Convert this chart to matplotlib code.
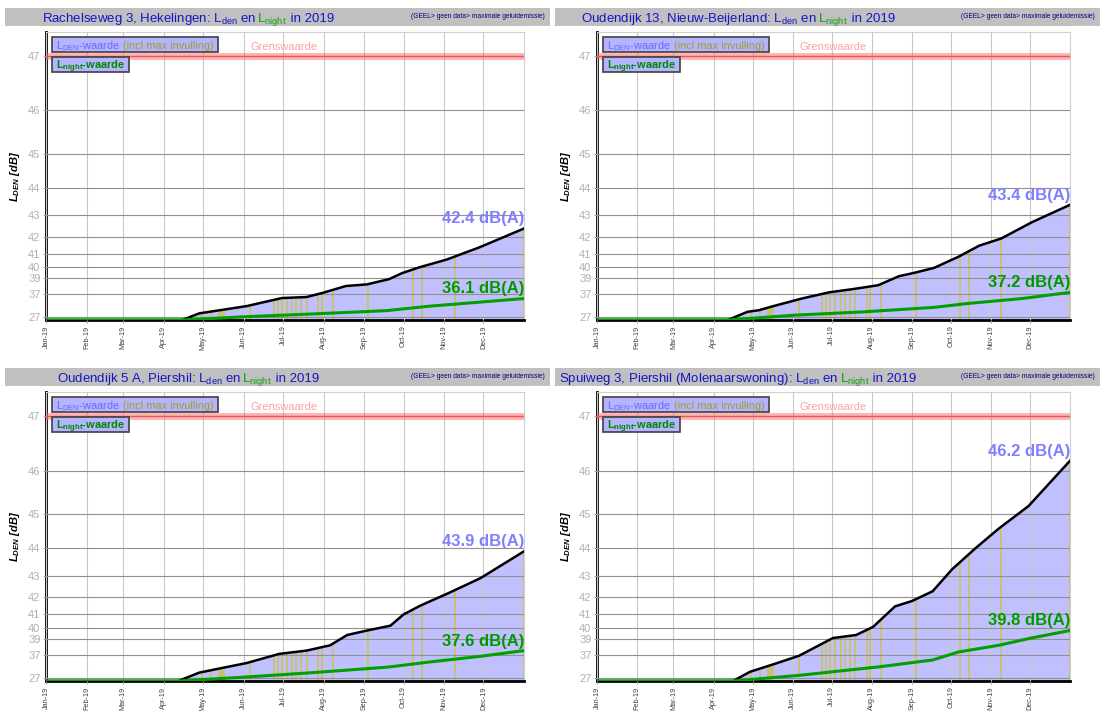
import numpy as np
import matplotlib.pyplot as plt
from matplotlib.patches import Rectangle

plt.rcParams['font.family'] = ['Liberation Sans', 'DejaVu Sans']
plt.rcParams['mathtext.default'] = 'regular'

W, H = 1101, 711

# x-as: dag van het jaar 2019
month_days = [0, 31, 59, 90, 120, 151, 181, 212, 243, 273, 304, 334]
month_labels = ['Jan-19', 'Feb-19', 'Mar-19', 'Apr-19', 'May-19', 'Jun-19',
                'Jul-19', 'Aug-19', 'Sep-19', 'Oct-19', 'Nov-19', 'Dec-19']
ytick_vals = [27, 37, 39, 40, 41, 42, 43, 44, 45, 46, 47]
grenswaarde = 47

# dagen zonder data (geel, maximale invulling)
gap_days = [119, 126, 132, 133, 134, 135, 136, 156, 174, 177, 180, 184, 188,
            191, 195, 199, 208, 211, 219, 246, 280, 287, 312, 365]

locations = ['Rachelseweg 3, Hekelingen', 'Oudendijk 13, Nieuw-Beijerland',
             'Oudendijk 5 A, Piershil', 'Spuiweg 3, Piershil (Molenaarswoning)']

# cumulatieve Lden / Lnight (dB), 0 = nog geen bijdrage
lden_days_1 = [0, 104, 117, 153, 180, 199, 211, 229, 245, 262, 272, 285, 306, 331, 365]
lden_1 = [0, 0, 31.0, 34.2, 36.2, 36.4, 37.1, 38.1, 38.3, 38.9, 39.5, 40.0, 40.6, 41.4, 42.4]
lnight_days_1 = [0, 104, 153, 203, 260, 293, 331, 365]
lnight_1 = [0, 0, 28.0, 30.6, 32.5, 34.2, 35.3, 36.1]

lden_days_2 = [0, 101, 116, 125, 136, 158, 179, 198, 217, 233, 244, 260, 279, 295, 312, 336, 365]
lden_2 = [0, 0, 31.9, 32.7, 34.2, 36.1, 37.2, 37.7, 38.2, 39.2, 39.5, 39.95, 40.8, 41.5, 41.9, 42.7, 43.4]
lnight_days_2 = [0, 101, 152, 206, 260, 287, 328, 365]
lnight_2 = [0, 0, 29.6, 31.9, 33.8, 35.0, 36.1, 37.2]

lden_days_3 = [0, 101, 117, 132, 153, 178, 199, 217, 230, 245, 263, 273, 286, 307, 332, 365]
lden_3 = [0, 0, 32.0, 33.7, 35.3, 37.1, 37.6, 38.3, 39.4, 39.8, 40.2, 41.0, 41.55, 42.2, 42.9, 43.9]
lnight_days_3 = [0, 101, 153, 204, 261, 294, 332, 365]
lnight_3 = [0, 0, 28.8, 32.0, 34.2, 35.6, 36.7, 37.6]

lden_days_4 = [0, 105, 118, 138, 156, 182, 200, 213, 230, 243, 259, 274, 292, 310, 333, 365]
lden_4 = [0, 0, 32.4, 35.2, 36.8, 39.1, 39.4, 40.1, 41.5, 41.8, 42.3, 43.25, 44.0, 44.6, 45.2, 46.2]
lnight_days_4 = [0, 105, 156, 218, 259, 279, 310, 335, 365]
lnight_4 = [0, 0, 30.3, 34.3, 36.0, 37.4, 38.3, 39.1, 39.8]

lden_end = [42.4, 43.4, 43.9, 46.2]
lnight_end = [36.1, 37.2, 37.6, 39.8]

BLUE_T = '#1515c8'
GREEN_T = '#10a010'
FILL = '#c0c0ff'
LBL_BLUE = '#8080ff'
LBL_GREEN = '#009a00'
OLIVE = '#a0a020'


def to_energy(l):
    return 10 ** (np.asarray(l, dtype=float) / 10)


def to_db(e):
    return 10 * np.log10(np.maximum(np.asarray(e, dtype=float), 1e-9))


def fx(x):
    return x / W


def fy(y):
    return 1 - y / H


def chain(fig, x, y, pieces, size, align='left', weight='normal'):
    """tekststukken met verschillende kleuren achter elkaar (pixels, y van boven)"""
    r = fig.canvas.get_renderer()
    texts = [fig.text(0, fy(y), s, color=c, fontsize=size, va='baseline',
                      fontweight=weight, zorder=5) for s, c in pieces]
    widths = [t.get_window_extent(r).width for t in texts]
    if align == 'center':
        x = x - sum(widths) / 2
    for t, w in zip(texts, widths):
        t.set_x(fx(x))
        x += w
    return sum(widths)


fig = plt.figure(figsize=(W / 100, H / 100), dpi=100)

# panelen: (links, boven) in pixels van het plotvlak, balk-x
panels = [(46, 32, 5), (597, 32, 555), (46, 392, 5), (597, 392, 555)]
ax_w = [478, 473, 478, 473]
ax_h = [288, 288, 289, 289]

data = [(lden_days_1, lden_1, lnight_days_1, lnight_1),
        (lden_days_2, lden_2, lnight_days_2, lnight_2),
        (lden_days_3, lden_3, lnight_days_3, lnight_3),
        (lden_days_4, lden_4, lnight_days_4, lnight_4)]

for i, ((left, top, bar_x), (dd, ld, nd, ln)) in enumerate(zip(panels, data)):
    w, h = ax_w[i], ax_h[i]
    ax = fig.add_axes([fx(left), fy(top + h), fx(w), h / H])
    ax.set_yscale('function', functions=(to_energy, to_db))
    ax.set_xlim(0, 365)
    ax.set_ylim(0, 47.38)

    ax.fill_between(dd, 0, ld, color=FILL, lw=0, zorder=1)

    # gele lijnen tot aan de curve
    tops = to_db(np.interp(gap_days, dd, to_energy(ld)))
    ax.vlines(gap_days, 0, tops, color='#c8c070', lw=1.5, alpha=0.9, zorder=2)

    ax.plot(dd, ld, color='black', lw=1.8, zorder=4)
    ax.plot(nd, ln, color='#00a000', lw=2.2, zorder=5)

    ax.axhline(grenswaarde, color='#ff6a6a', lw=5, alpha=0.5, zorder=3)
    ax.axhline(grenswaarde, color='#f05050', lw=1, alpha=0.8, zorder=3)
    ax.annotate('Grenswaarde', xy=(182, grenswaarde), xytext=(0, 3),
                textcoords='offset points', ha='center', va='bottom',
                color='#ffa0a0', fontsize=8)

    ax.annotate(f'{lden_end[i]} dB(A)', xy=(365, lden_end[i]), xytext=(0, 1.5),
                textcoords='offset points', ha='right', va='bottom',
                color=LBL_BLUE, fontsize=12, fontweight='bold', zorder=6)
    ax.annotate(f'{lnight_end[i]} dB(A)', xy=(365, lnight_end[i]), xytext=(0, 1.5),
                textcoords='offset points', ha='right', va='bottom',
                color=LBL_GREEN, fontsize=12, fontweight='bold', zorder=6)

    ax.set_xticks(month_days)
    ax.set_xticklabels(month_labels, rotation=90, fontsize=5.2, color='#404040')
    ax.set_yticks(ytick_vals)
    ax.set_yticklabels([str(v) for v in ytick_vals], fontsize=8, color='#b0b0b0')
    ax.yaxis.set_minor_locator(plt.NullLocator())
    ax.tick_params(axis='both', length=2.5, color='#a0a0a0', pad=1.5)

    ax.grid(axis='x', color='#c8c8c8', lw=0.8)
    ax.grid(axis='y', color='#909090', lw=0.8)
    ax.set_axisbelow(False)
    for s in ['left', 'bottom']:
        ax.spines[s].set_color('black')
        ax.spines[s].set_linewidth(2)
    for s in ['top', 'right']:
        ax.spines[s].set_color('#d0d0d0')
        ax.spines[s].set_linewidth(0.8)

    ax.set_ylabel('L$_{DEN}$ [dB]', fontsize=8, fontstyle='italic', fontweight='bold')
    ax.yaxis.set_label_coords(-24 / w, 0.5)

    # titelbalk
    bar_y = top - 24
    fig.add_artist(Rectangle((fx(bar_x), fy(bar_y + 18)), fx(545), 18 / H,
                             transform=fig.transFigure, color='#c0c0c0', lw=0))
    chain(fig, bar_x + 183, bar_y + 14,
          [(locations[i] + ': L$_{den}$ en ', BLUE_T), ('L$_{night}$', GREEN_T),
           (' in 2019', BLUE_T)], 9.5, align='center')
    fig.text(fx(bar_x + 540), fy(bar_y + 9), '(GEEL> geen data> maximale geluidemissie)',
             ha='right', va='center', fontsize=4.8, color='#000080')

    # legendablokjes
    bx, by = left + 6, top + 5
    tw = chain(fig, bx + 4, by + 12, [('L$_{DEN}$-waarde', '#6a6aff'),
                                      (' (incl max invulling)', OLIVE)], 7.9)
    fig.add_artist(Rectangle((fx(bx), fy(by + 15)), fx(tw + 8), 15 / H,
                             transform=fig.transFigure, facecolor='#b4b4ff',
                             edgecolor='#404040', lw=1.2, zorder=2))
    tw = chain(fig, bx + 4, by + 32, [('L$_{night}$-waarde', '#008a00')], 7.9, weight='bold')
    fig.add_artist(Rectangle((fx(bx), fy(by + 35)), fx(tw + 8), 15 / H,
                             transform=fig.transFigure, facecolor='#b4b4ff',
                             edgecolor='#404040', lw=1.2, zorder=2))

fig.savefig('out.png', dpi=100)
